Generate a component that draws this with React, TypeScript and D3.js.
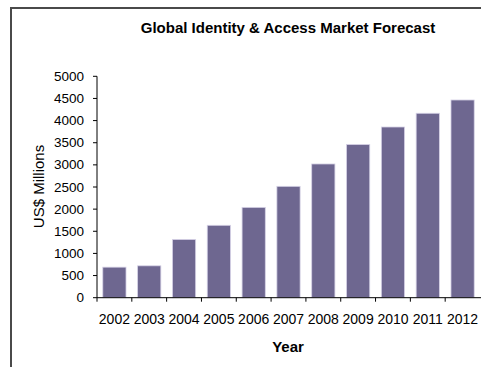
import React from "react";
import * as d3 from "d3";

const years = ["2002","2003","2004","2005","2006","2007","2008","2009","2010","2011","2012"];
const values = [690, 720, 1315, 1635, 2040, 2515, 3020, 3460, 3855, 4165, 4465];
const yTicks = [0, 500, 1000, 1500, 2000, 2500, 3000, 3500, 4000, 4500, 5000];

export default function App() {
  const W = 481, H = 367;
  const x0 = 97, x1 = 480, yTop = 76.3, yBot = 297.7;
  const x = d3.scaleBand<string>().domain(years).range([x0, x1]).paddingInner(0.333).paddingOuter(0.1665);
  const band = d3.scaleBand<string>().domain(years).range([x0, x1]);
  const y = d3.scaleLinear().domain([0, 5000]).range([yBot, yTop]);
  const font = "'Liberation Sans', Arial, sans-serif";
  return (
    <svg width={W} height={H} style={{ position: "absolute", left: 0, top: 0, background: "#fff" }}>
      <rect x={0} y={0} width={W} height={H} fill="#fff" />
      <path d="M11,367 L11,8 L481,8" fill="none" stroke="#4a4a4a" strokeWidth={2} />
      <text x={288} y={33} textAnchor="middle" fontFamily={font} fontWeight="bold" fontSize={15} fill="#000">
        Global Identity &amp; Access Market Forecast
      </text>
      {years.map((yr, i) => (
        <rect key={yr} x={x(yr)} y={y(values[i])} width={x.bandwidth()} height={yBot - y(values[i])}
          fill="#6e6790" stroke="#d6d2e6" strokeWidth={0.8} />
      ))}
      <line x1={x0} x2={x0} y1={yTop} y2={yBot} stroke="#000" strokeWidth={1} />
      <line x1={x0} x2={x1 + 1} y1={yBot} y2={yBot} stroke="#000" strokeWidth={1} />
      {yTicks.map(t => (
        <g key={t}>
          <line x1={x0 - 4} x2={x0} y1={y(t)} y2={y(t)} stroke="#000" />
          <text x={84} y={y(t) + 4.5} textAnchor="end" fontFamily={font} fontSize={13.5} fill="#000">{t}</text>
        </g>
      ))}
      {years.map((yr, i) => (
        <g key={yr}>
          {i > 0 && <line x1={band(yr)} x2={band(yr)} y1={yBot} y2={yBot + 4} stroke="#000" />}
          <text x={(band(yr) as number) + band.bandwidth() / 2} y={323.5} textAnchor="middle" fontFamily={font} fontSize={14} fill="#000">{yr}</text>
        </g>
      ))}
      <line x1={x0} x2={x0} y1={yBot} y2={yBot + 4} stroke="#000" />
      <text x={288} y={351.5} textAnchor="middle" fontFamily={font} fontWeight="bold" fontSize={15} fill="#000">Year</text>
      <text transform="translate(43.5,186.5) rotate(-90)" textAnchor="middle" fontFamily={font} fontSize={15} fill="#000">US$ Millions</text>
    </svg>
  );
}
